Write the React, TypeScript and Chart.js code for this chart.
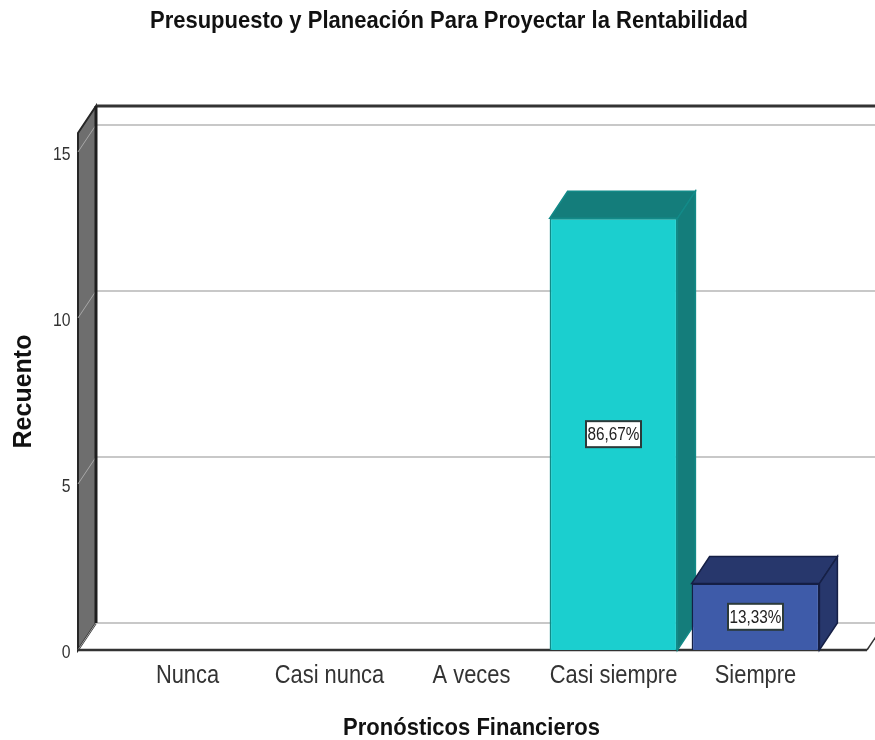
import React, { useEffect, useRef } from "react";
import { Chart, registerables } from "chart.js";

Chart.register(...registerables);

const categories = ["Nunca", "Casi nunca", "A veces", "Casi siempre", "Siempre"];
const counts = [0, 0, 0, 13, 2];
const percentLabels = ["", "", "", "86,67%", "13,33%"];
const frontColors = ["#1BCFCF", "#1BCFCF", "#1BCFCF", "#1BCFCF", "#3E5BA9"];
const depthColors = ["#147D7B", "#147D7B", "#147D7B", "#147D7B", "#27376C"];
const edgeColors = ["#128A88", "#128A88", "#128A88", "#128A88", "#151F45"];
const gridValues = [0, 5, 10, 15];
const yTicks = [0, 5, 10, 15];
const yMax = 15.57;

const chartTitle = "Presupuesto y Planeación Para Proyectar la Rentabilidad";
const xTitle = "Pronósticos Financieros";
const yTitle = "Recuento";

const DX = 18;
const DY = 27;
const SANS = "'Liberation Sans', Arial, sans-serif";

// The reference's text is taller than it is wide: condense glyphs horizontally.
const squeezeFor = (text: string, font: string) => {
  if (text === yTitle) return 1;
  return font.includes("bold") ? 0.917 : 0.875;
};

const scene = {
  id: "scene",
  beforeInit(chart: any) {
    const ctx = chart.ctx;
    const fill = ctx.fillText.bind(ctx);
    ctx.fillText = (t: string, x: number, y: number) => {
      fill(t, x, y, ctx.measureText(t).width * squeezeFor(t, ctx.font));
    };
  },
  afterLayout(chart: any) {
    chart.titleBlock.left = 71.5;
  },
  beforeDatasetsDraw(chart: any) {
    const { ctx } = chart;
    const y = chart.scales.y;
    const frontL = 78;
    const backL = frontL + DX;
    const frontR = 867;
    const backR = frontR + DX;
    const y0 = y.getPixelForValue(0);
    const yTop = y.getPixelForValue(yMax);
    ctx.save();
    ctx.lineJoin = "miter";

    // left wall
    ctx.beginPath();
    ctx.moveTo(frontL, yTop);
    ctx.lineTo(backL, yTop - DY);
    ctx.lineTo(backL, y0 - DY);
    ctx.lineTo(frontL, y0);
    ctx.closePath();
    ctx.fillStyle = "#6E6E6E";
    ctx.fill();
    ctx.strokeStyle = "#262626";
    ctx.lineWidth = 2;
    ctx.stroke();

    // grid lines on back wall and side wall
    gridValues.forEach((v) => {
      const py = y.getPixelForValue(v);
      ctx.strokeStyle = "#C8C8C8";
      ctx.lineWidth = 2;
      ctx.beginPath();
      ctx.moveTo(backL, py - DY);
      ctx.lineTo(875, py - DY);
      ctx.stroke();
      ctx.lineWidth = 1;
      ctx.strokeStyle = "#A8A8A8";
      ctx.beginPath();
      ctx.moveTo(frontL, py);
      ctx.lineTo(backL, py - DY);
      ctx.stroke();
    });

    // top edge and back-left edge
    ctx.strokeStyle = "#333333";
    ctx.lineWidth = 3;
    ctx.beginPath();
    ctx.moveTo(backL, yTop - DY);
    ctx.lineTo(875, yTop - DY);
    ctx.stroke();
    ctx.strokeStyle = "#1E1E1E";
    ctx.beginPath();
    ctx.moveTo(backL, yTop - DY);
    ctx.lineTo(backL, y0 - DY);
    ctx.stroke();

    // floor front edge and right diagonal
    ctx.strokeStyle = "#333333";
    ctx.lineWidth = 2.5;
    ctx.beginPath();
    ctx.moveTo(frontL, y0);
    ctx.lineTo(frontR, y0);
    ctx.stroke();
    ctx.lineWidth = 1.5;
    ctx.beginPath();
    ctx.moveTo(frontR, y0);
    ctx.lineTo(backR, y0 - DY);
    ctx.stroke();

    // bar depth faces
    const bars = chart.getDatasetMeta(0).data;
    bars.forEach((bar: any, i: number) => {
      if (!counts[i]) return;
      const half = bar.width / 2;
      const l = bar.x - half;
      const r = bar.x + half;
      const t = bar.y;
      const b = bar.base;
      ctx.fillStyle = depthColors[i];
      ctx.strokeStyle = edgeColors[i];
      ctx.lineWidth = 1.5;
      ctx.beginPath();
      ctx.moveTo(l, t);
      ctx.lineTo(l + DX, t - DY);
      ctx.lineTo(r + DX, t - DY);
      ctx.lineTo(r, t);
      ctx.closePath();
      ctx.fill();
      ctx.stroke();
      ctx.beginPath();
      ctx.moveTo(r, t);
      ctx.lineTo(r + DX, t - DY);
      ctx.lineTo(r + DX, b - DY);
      ctx.lineTo(r, b);
      ctx.closePath();
      ctx.fill();
      ctx.stroke();
    });
    ctx.restore();
  },
  afterDatasetsDraw(chart: any) {
    const { ctx } = chart;
    const bars = chart.getDatasetMeta(0).data;
    ctx.save();
    bars.forEach((bar: any, i: number) => {
      const label = percentLabels[i];
      if (!label) return;
      const cx = bar.x;
      const cy = (bar.y + bar.base) / 2;
      const w = 55;
      const h = 26;
      ctx.fillStyle = "#FFFFFF";
      ctx.fillRect(cx - w / 2, cy - h / 2, w, h);
      ctx.strokeStyle = "#2B3A3A";
      ctx.lineWidth = 2;
      ctx.strokeRect(cx - w / 2, cy - h / 2, w, h);
      ctx.fillStyle = "#222222";
      ctx.font = `17.5px ${SANS}`;
      ctx.textAlign = "center";
      ctx.textBaseline = "middle";
      ctx.fillText(label, cx, cy + 1);
    });
    ctx.restore();
  },
};

export default function App() {
  const ref = useRef<HTMLCanvasElement | null>(null);
  useEffect(() => {
    if (!ref.current) return;
    const chart = new Chart(ref.current, {
      type: "bar",
      data: {
        labels: categories,
        datasets: [
          {
            data: counts,
            backgroundColor: frontColors,
            borderColor: edgeColors,
            borderWidth: 1.5,
            barPercentage: 0.9,
            categoryPercentage: 1,
          },
        ],
      },
      plugins: [scene],
      options: {
        responsive: false,
        animation: false,
        layout: { padding: { left: 0, right: 48.5, top: 0, bottom: 0 } },
        plugins: {
          legend: { display: false },
          tooltip: { enabled: false },
          title: {
            display: true,
            text: chartTitle,
            color: "#111111",
            font: { family: SANS, size: 24, weight: "bold" },
            padding: { top: 7, bottom: 97.2 },
          },
        },
        scales: {
          x: {
            afterFit: (s: any) => {
              s.height = 90;
            },
            grid: { display: false, drawTicks: false },
            border: { display: false },
            ticks: {
              autoSkip: false,
              maxRotation: 0,
              padding: 11,
              color: "#333333",
              font: { family: SANS, size: 25 },
            },
            title: {
              display: true,
              text: xTitle,
              color: "#111111",
              font: { family: SANS, size: 24, weight: "bold" },
              padding: { top: 0, bottom: -3 },
            },
          },
          y: {
            min: 0,
            max: yMax,
            afterFit: (s: any) => {
              s.width = 116.5;
            },
            afterBuildTicks: (s: any) => {
              s.ticks = yTicks.map((value) => ({ value }));
            },
            grid: { display: false, drawTicks: false },
            border: { display: false },
            ticks: {
              padding: 46,
              labelOffset: 3,
              color: "#333333",
              font: { family: SANS, size: 18 },
            },
            title: {
              display: true,
              text: yTitle,
              color: "#111111",
              font: { family: SANS, size: 25, weight: "bold" },
              padding: { top: 9, bottom: 0 },
            },
          },
        },
      },
    } as any);
    return () => chart.destroy();
  }, []);
  return (
    <div style={{ position: "fixed", left: 0, top: 0, width: 875, height: 740, background: "#fff" }}>
      <canvas ref={ref} width={875} height={740} style={{ display: "block" }} />
    </div>
  );
}
